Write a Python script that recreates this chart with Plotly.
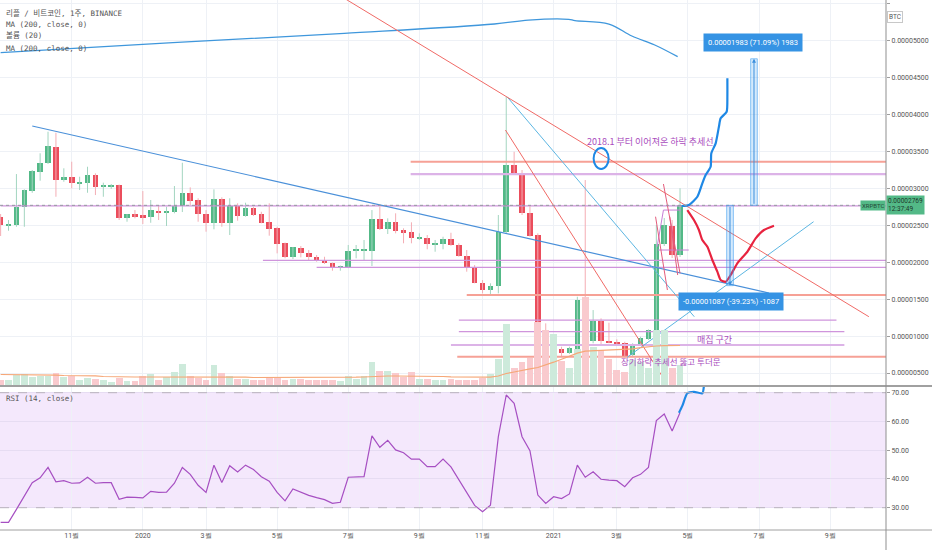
import pandas as pd
import plotly.graph_objects as go

# XRP/BTC weekly candles (Binance), prices in satoshi (1e-8 BTC)
start = pd.Timestamp("2019-09-02")
weeks = pd.date_range(start, periods=87, freq="7D")

opens = [2615, 2502, 2502, 2742, 2967, 3224, 3337, 3558, 3115, 3148,
         3067, 3075, 3179, 3030, 3030, 3044, 2601, 2647, 2634, 2607,
         2696, 2669, 2678, 2759, 2939, 2841, 2651, 2525, 2850, 2525,
         2759, 2628, 2736, 2647, 2539, 2458, 2255, 2073, 2195, 2128,
         2073, 2029, 1984, 1930, 1930, 2155, 2155, 2155, 2584, 2444,
         2547, 2435, 2404, 2317, 2330, 2241, 2241, 2313, 2232, 2087,
         1930, 1722, 1623, 1681, 2412, 3314, 3192, 2661, 2367, 1082,
         666, 821, 767, 821, 1515, 937, 1208, 937, 919, 902,
         743, 879, 956, 1082, 2245, 2493, 2096]
highs = [2651, 2570, 3192, 2985, 3247, 3473, 3765, 3751, 3270, 3359,
         3156, 3291, 3202, 3075, 3057, 3050, 2650, 2705, 2962, 2841,
         2773, 2750, 3030, 3345, 3012, 2864, 2705, 2985, 2877, 2864,
         2796, 2804, 2750, 2682, 2796, 2479, 2265, 2205, 2218, 2164,
         2097, 2073, 1995, 1955, 2232, 2232, 2300, 2705, 2750, 2593,
         2661, 2458, 2539, 2390, 2367, 2300, 2344, 2398, 2255, 2164,
         1961, 1758, 1714, 2638, 4238, 3494, 3247, 2759, 2390, 1172,
         856, 856, 856, 1532, 3111, 1352, 1240, 1181, 956, 923,
         902, 991, 1091, 2502, 2597, 2570, 3000]
lows = [2354, 2425, 2479, 2479, 2939, 3102, 3328, 2885, 3088, 2999,
        2976, 2939, 2908, 2885, 2990, 2570, 2547, 2593, 2516, 2533,
        2570, 2489, 2661, 2678, 2773, 2547, 2412, 2444, 2479, 2367,
        2561, 2615, 2624, 2525, 2358, 2119, 2052, 2042, 2065, 2029,
        2006, 1975, 1884, 1884, 1920, 2052, 2029, 1948, 2435, 2381,
        2390, 2255, 2255, 2300, 2174, 2141, 2174, 2220, 2073, 1871,
        1714, 1578, 1555, 1578, 2394, 3179, 2638, 2345, 1037, 653,
        653, 730, 757, 811, 834, 902, 879, 902, 879, 712,
        721, 865, 947, 1055, 2218, 2056, 2070]
closes = [2502, 2512, 2750, 2976, 3233, 3345, 3571, 3111, 3148, 3067,
          3084, 3179, 3021, 3044, 3044, 2593, 2647, 2624, 2607, 2705,
          2669, 2682, 2759, 2939, 2831, 2651, 2525, 2850, 2525, 2759,
          2628, 2736, 2638, 2534, 2448, 2241, 2073, 2201, 2128, 2065,
          2029, 1984, 1930, 1948, 2155, 2164, 2164, 2584, 2444, 2547,
          2425, 2398, 2322, 2336, 2241, 2255, 2313, 2232, 2087, 1930,
          1722, 1623, 1681, 2412, 3314, 3192, 2661, 2354, 1059, 666,
          821, 767, 834, 1488, 892, 1208, 937, 910, 902, 721,
          892, 969, 1082, 2245, 2502, 2096, 2769]
# volume (arbitrary units) and its 20 week average
volume = [45, 45, 98, 105, 78, 92, 92, 118, 78, 85,
          45, 72, 62, 45, 32, 72, 35, 35, 85, 105,
          52, 78, 125, 212, 85, 72, 52, 195, 118, 85,
          58, 58, 45, 45, 78, 65, 45, 55, 55, 52,
          45, 45, 45, 38, 92, 58, 92, 225, 138, 138,
          118, 78, 125, 58, 58, 52, 45, 60, 50, 52,
          52, 68, 105, 262, 612, 172, 228, 272, 625, 545,
          512, 235, 172, 362, 875, 378, 345, 262, 145, 128,
          245, 228, 172, 545, 545, 172, 195]
volume_ma = [105, 105, 105, 105, 105, 105, 105, 98, 95, 95,
             95, 95, 92, 85, 82, 80, 80, 80, 80, 80,
             80, 82, 82, 82, 85, 85, 82, 82, 82, 82,
             80, 78, 75, 75, 75, 75, 75, 75, 75, 72,
             72, 72, 72, 72, 75, 78, 80, 85, 88, 90,
             90, 90, 88, 88, 85, 85, 85, 82, 80, 80,
             78, 78, 78, 90, 115, 130, 148, 162, 175, 200,
             228, 258, 290, 318, 338, 342, 345, 348, 350, 352,
             362, 373, 385, 390, 393, 395, 395]
rsi = [24.9, 24.9, 29.4, 34.1, 38.7, 40.4, 44.0, 39.0, 39.4, 38.5,
       38.6, 40.6, 38.5, 38.7, 38.7, 32.9, 33.7, 33.6, 33.4, 35.7,
       35.3, 35.4, 38.5, 44.0, 41.6, 37.8, 35.3, 44.8, 38.8, 44.6,
       42.4, 44.8, 43.3, 40.8, 39.2, 35.3, 32.4, 36.5, 35.3, 34.3,
       33.5, 32.8, 31.5, 31.9, 40.6, 40.7, 40.8, 55.0, 51.0, 53.4,
       50.1, 49.1, 46.9, 46.9, 44.3, 44.3, 46.9, 44.2, 39.8, 35.0,
       30.8, 28.6, 30.9, 54.7, 69.2, 66.3, 54.7, 49.8, 34.4, 31.5,
       33.8, 33.2, 34.8, 44.8, 40.6, 42.5, 39.9, 39.6, 39.4, 37.3,
       40.4, 41.6, 44.0, 60.3, 62.6, 56.7, 63.1]

# 200 week MA read at a few weeks (week index, price)
ma_w = [0, 21.8, 43.5, 62.5, 66.8, 71.9, 72.7, 77, 79.9, 82.8, 85.7]
ma_v = [4834, 4969, 5096, 5222, 5276, 5286, 5267, 5222, 5060, 4938, 4780]

# drawings: (start week, start price, end week, end price)
red_trends = [(39.7, 5817, 109.9, 1262), (63.9, 3788, 83.8, 446)]
blue_trends = [(4.0, 3842, 97.25, 1582)]
cyan_trends = [(64.1, 4238, 87.8, 1262), (79.3, 712, 102.9, 2547)]
pink_marks = [(83.9, 3057, 86.0, 1849), (82.9, 2615, 84.4, 1623), (84.7, 2615, 85.7, 1826)]
violet_marks = [(83.2, 2164, 87.1, 2164), (83.9, 2705, 86.1, 2705), (83.1, 2209, 83.9, 2705)]
# horizontal levels: (start week, end week, price)
salmon_levels = [(51.9, 115, 3359), (59.0, 115, 1555), (57.8, 115, 721)]
violet_thick = [(51.9, 115, 3192), (57.0, 106.8, 879)]
violet_thin = [(33.2, 115, 2025), (40.0, 115, 1930), (58.0, 105.8, 1217),
               (58.0, 106.8, 1059), (0, 115, 2762)]
# hand drawn scenarios
bull_w = [86.2, 87.13, 88.19, 88.82, 89.24, 89.87, 89.96, 90.51, 90.92, 91.14, 91.9, 91.99, 91.99]
bull_p = [2760, 2773, 2885, 3067, 3179, 3291, 3473, 3608, 3832, 3946, 4035, 4238, 4487]
bear_w = [86.92, 87.76, 88.39, 88.82, 89.46, 90.09, 90.72, 91.14, 91.77, 92.41, 93.25, 94.52, 95.57, 96.62, 97.89]
bear_p = [2705, 2570, 2435, 2299, 2209, 2029, 1871, 1758, 1735, 1826, 1984, 2141, 2322, 2435, 2493]
rsi_proj_w = [85.86, 86.3, 86.92, 87.76, 88.82, 89.03]
rsi_proj_v = [63.0, 65.5, 69.8, 70.3, 69.8, 72.7]

# price range tool
last_price = 2769
up_move, up_pct, up_w = 1983, 71.09, (94.94, 95.78)
down_move, down_pct, down_w = -1087, -39.23, (91.9, 92.75)

tick_dates = ["2019-09-02", "2019-11-04", "2020-01-06", "2020-03-02", "2020-05-04",
              "2020-07-06", "2020-09-07", "2020-11-02", "2021-01-04", "2021-03-01",
              "2021-05-03", "2021-07-05", "2021-09-06"]
tick_text = ["9월", "11월", "2020", "3월", "5월", "7월", "9월", "11월", "2021",
             "3월", "5월", "7월", "9월"]
price_ticks = list(range(500, 5501, 500))
rsi_ticks = [30, 40, 50, 60, 70]

GREEN, RED = "#53b987", "#eb4d5c"
GRID = "#eef1f6"
PURPLE_TXT = "#a94bbd"
WEEK_MS = 7 * 24 * 3600 * 1000
KR = "Noto Sans CJK KR, Noto Sans, sans-serif"


def wk(w):
    return start + pd.Timedelta(days=7 * w)


def seg_trace(segs, color, width, dash="solid", yaxis="y"):
    xs, ys = [], []
    for w0, p0, w1, p1 in segs:
        xs += [wk(w0), wk(w1), None]
        ys += [p0, p1, None]
    return go.Scatter(x=xs, y=ys, mode="lines", yaxis=yaxis, hoverinfo="skip",
                      line=dict(color=color, width=width, dash=dash))


def level_trace(levels, color, width):
    return seg_trace([(a, p, b, p) for a, b, p in levels], color, width)


up = [c >= o for o, c in zip(opens, closes)]
fig = go.Figure()

# volume
fig.add_trace(go.Bar(x=weeks, y=volume, yaxis="y2", width=WEEK_MS * 0.86,
                     marker=dict(color=["#cdeadb" if u else "#f9cace" for u in up],
                                 line=dict(width=0))))
fig.add_trace(go.Scatter(x=weeks, y=volume_ma, yaxis="y2", mode="lines",
                         line=dict(color="#f6a777", width=1.2)))

# MA 200
fig.add_trace(go.Scatter(x=[wk(w) for w in ma_w], y=ma_v, mode="lines",
                         line=dict(color="#3f97dc", width=1.3, shape="spline")))

# wicks
for flag, col in [(True, "#a3d5c0"), (False, "#f4adb4")]:
    xs, ys = [], []
    for d, h, l, u in zip(weeks, highs, lows, up):
        if u == flag:
            xs += [d, d, None]
            ys += [l, h, None]
    fig.add_trace(go.Scatter(x=xs, y=ys, mode="lines", line=dict(color=col, width=1),
                             hoverinfo="skip"))

# candle bodies
fig.add_trace(go.Bar(
    x=weeks,
    y=[max(abs(c - o), 12) for o, c in zip(opens, closes)],
    base=[min(o, c) for o, c in zip(opens, closes)],
    width=WEEK_MS * 0.7,
    marker=dict(color=[GREEN if u else RED for u in up], line=dict(width=0)),
))

# levels and trend lines
fig.add_trace(level_trace(violet_thin, "#cf95dc", 1.2))
fig.add_trace(level_trace(violet_thick, "#dcb3e7", 2.2))
fig.add_trace(level_trace(salmon_levels, "#f6a196", 2))
fig.add_trace(seg_trace(blue_trends, "#4a90d9", 1.2))
fig.add_trace(seg_trace(cyan_trends, "#5cb6e2", 1))
fig.add_trace(seg_trace(red_trends, "#f06a66", 1))
fig.add_trace(seg_trace(violet_marks, "#c77ed6", 1))
fig.add_trace(seg_trace(pink_marks, "#e35c7c", 1))

# scenarios
fig.add_trace(go.Scatter(x=[wk(w) for w in bull_w], y=bull_p, mode="lines",
                         line=dict(color="#1e88e5", width=2.2, shape="spline", smoothing=0.6)))
fig.add_trace(go.Scatter(x=[wk(w) for w in bear_w], y=bear_p, mode="lines",
                         line=dict(color="#e8233f", width=2.2, shape="spline", smoothing=0.6)))

# RSI
fig.add_trace(go.Scatter(x=weeks, y=rsi, yaxis="y3", mode="lines",
                         line=dict(color="#a64fc2", width=1.2)))
fig.add_trace(go.Scatter(x=[wk(w) for w in rsi_proj_w], y=rsi_proj_v, yaxis="y3",
                         mode="lines",
                         line=dict(color="#1e88e5", width=2.2, shape="spline", smoothing=0.6)))

shapes = [
    dict(type="rect", xref="paper", x0=0, x1=1, yref="y3", y0=30, y1=70,
         fillcolor="#f4e8fc", line=dict(width=0), layer="below"),
    dict(type="line", xref="paper", x0=0, x1=1, yref="y3", y0=70, y1=70,
         line=dict(color="#b9b3bd", width=1, dash="dash")),
    dict(type="line", xref="paper", x0=0, x1=1, yref="y3", y0=30, y1=30,
         line=dict(color="#b9b3bd", width=1, dash="dash")),
    dict(type="line", xref="paper", x0=0, x1=1.052, yref="paper", y0=0.2717, y1=0.2717,
         line=dict(color="#a0a0a0", width=2)),
    dict(type="line", xref="paper", x0=0, x1=1.052, yref="paper", y0=0, y1=0,
         line=dict(color="#a0a0a0", width=1)),
    dict(type="line", xref="paper", x0=1, x1=1, yref="paper", y0=-0.04, y1=1,
         line=dict(color="#8f8f8f", width=1)),
    dict(type="line", xref="paper", x0=0, x1=1, yref="y", y0=last_price, y1=last_price,
         line=dict(color="#9598a1", width=1, dash="dot")),
    dict(type="circle", xref="x", yref="y", x0=wk(75.06), x1=wk(76.96), y0=3260, y1=3544,
         line=dict(color="#1e88e5", width=2)),
]
for (w0, w1), mv in [(up_w, up_move), (down_w, down_move)]:
    shapes.append(dict(type="rect", xref="x", yref="y", x0=wk(w0), x1=wk(w1),
                       y0=last_price, y1=last_price + mv,
                       fillcolor="rgba(66,160,240,0.22)",
                       line=dict(color="rgba(66,160,240,0.6)", width=1)))

annotations = []
for (w0, w1), mv in [(up_w, up_move), (down_w, down_move)]:
    xc = wk((w0 + w1) / 2)
    annotations.append(dict(x=xc, y=last_price + mv, ax=xc, ay=last_price,
                            xref="x", yref="y", axref="x", ayref="y", text="",
                            showarrow=True, arrowhead=2, arrowsize=0.8, arrowwidth=1,
                            arrowcolor="#3c8fdd"))

lbl_font = dict(size=7.5, color="white", family="Roboto")
annotations += [
    dict(x=wk(95.25), y=4978, xref="x", yref="y", showarrow=False,
         text=f"{up_move / 1e8:.8f} ({up_pct:.2f}%) {up_move}",
         bgcolor="#3593e4", borderpad=4, font=lbl_font),
    dict(x=wk(92.4), y=1467, xref="x", yref="y", showarrow=False,
         text=f"{down_move / 1e8:.8f} ({down_pct:.2f}%) {down_move}",
         bgcolor="#3593e4", borderpad=4, font=lbl_font),
    dict(x=wk(82.3), y=3639, xref="x", yref="y", showarrow=False,
         text="2018.1 부터 이어져온 하락 추세선", font=dict(size=9, color=PURPLE_TXT, family=KR)),
    dict(x=wk(90.4), y=960, xref="x", yref="y", showarrow=False,
         text="매집 구간", font=dict(size=9, color=PURPLE_TXT, family=KR)),
    dict(x=wk(84.9), y=656, xref="x", yref="y", showarrow=False,
         text="장기하락 추세선 뚫고 투더문", font=dict(size=8.5, color=PURPLE_TXT, family=KR)),
    dict(x=1, y=last_price, xref="paper", yref="y", xanchor="right", showarrow=False,
         text="XRPBTC", bgcolor="#53b987", borderpad=1,
         font=dict(size=6, color="#244a38", family="Roboto")),
    dict(x=1, y=last_price, xref="paper", yref="y", xanchor="left", showarrow=False,
         text=f"{last_price / 1e8:.8f}<br>12:37:49", bgcolor="#53b987", borderpad=1,
         align="left", font=dict(size=6.5, color="#1e3a2c", family="Roboto")),
    dict(x=1.0187, y=0.979, xref="paper", yref="paper", showarrow=False, text="BTC",
         bgcolor="white", bordercolor="#c8c8c8", borderwidth=1, borderpad=1,
         font=dict(size=6.5, color="#555", family="Roboto")),
]
header = ["리플 / 비트코인, 1주, BINANCE", "MA (200, close, 0)", "볼륨 (20)", "MA (200, close, 0)"]
for txt, ypx in zip(header, [13.3, 25, 35.7, 49]):
    annotations.append(dict(x=0.0045, y=1 - ypx / 530, xref="paper", yref="paper",
                            xanchor="left", yanchor="middle", showarrow=False, text=txt,
                            font=dict(size=7.5, color="#555",
                                      family="DejaVu Sans Mono, Noto Sans CJK KR")))
annotations.append(dict(x=0.0045, y=1 - 398.5 / 530, xref="paper", yref="paper",
                        xanchor="left", yanchor="middle", showarrow=False,
                        text="RSI (14, close)",
                        font=dict(size=7.5, color="#555", family="DejaVu Sans Mono")))

tickfont = dict(size=7, color="#555", family="Roboto")
fig.update_layout(
    width=932, height=550,
    margin=dict(l=0, r=46, t=0, b=20),
    paper_bgcolor="white", plot_bgcolor="white",
    showlegend=False, barmode="overlay", bargap=0,
    font=dict(family="Roboto, Noto Sans CJK KR, sans-serif"),
    xaxis=dict(type="date", range=[wk(-0.08), wk(112.07)], anchor="y3",
               tickmode="array", tickvals=tick_dates, ticktext=tick_text,
               showgrid=True, gridcolor=GRID, gridwidth=1, showline=False,
               zeroline=False, ticks="", tickfont=tickfont),
    yaxis=dict(domain=[0.2736, 1], range=[338, 5547], side="right",
               tickmode="array", tickvals=price_ticks,
               ticktext=[f"{v / 1e8:.8f}" for v in price_ticks],
               showgrid=True, gridcolor=GRID, zeroline=False,
               showline=False, ticks="outside", ticklen=3, tickcolor="#9e9e9e",
               tickfont=tickfont),
    yaxis2=dict(overlaying="y", range=[0, 3850], visible=False),
    yaxis3=dict(domain=[0, 0.2698], range=[22.24, 71.98], side="right",
                tickmode="array", tickvals=rsi_ticks,
                ticktext=[f"{v:.2f}" for v in rsi_ticks],
                showgrid=True, gridcolor="#e6dcf2", zeroline=False,
                showline=False, ticks="outside", ticklen=3, tickcolor="#9e9e9e",
                tickfont=tickfont),
    shapes=shapes,
    annotations=annotations,
)

# the page's default body margin would shift the chart off the 932x550 window
fig.write_html("out.html", config={"displayModeBar": False},
               post_script="document.body.style.margin = '0';")
